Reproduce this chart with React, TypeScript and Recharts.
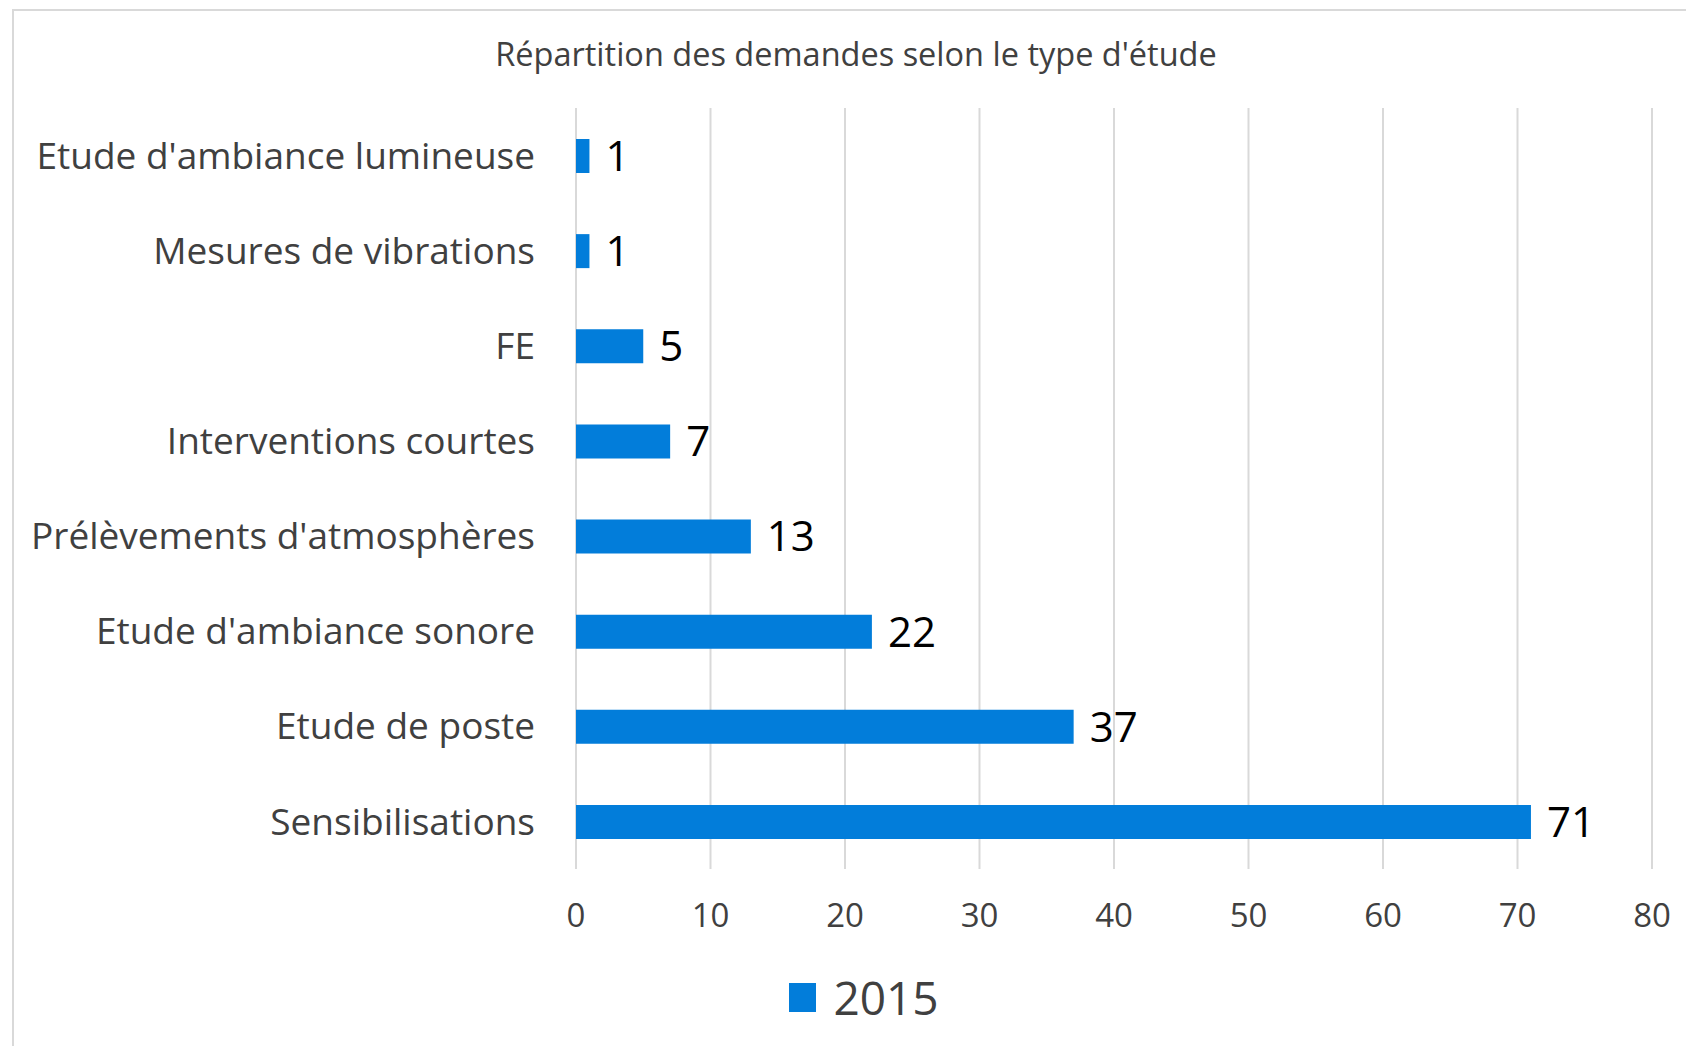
import React from "react";
import { BarChart, Bar, XAxis, YAxis, CartesianGrid, LabelList, Legend } from "recharts";

const categories = [
  "Etude d'ambiance lumineuse",
  "Mesures de vibrations",
  "FE",
  "Interventions courtes",
  "Prélèvements d'atmosphères",
  "Etude d'ambiance sonore",
  "Etude de poste",
  "Sensibilisations",
];
const values2015 = [1, 1, 5, 7, 13, 22, 37, 71];
const xTicks = [0, 10, 20, 30, 40, 50, 60, 70, 80];
const seriesName = "2015";
const title = "Répartition des demandes selon le type d'étude";

const data = categories.map((c, i) => ({ name: c, v: values2015[i] }));

const FONT = "'Open Sans', 'Noto Sans', sans-serif";
const BLUE = "#027DDA";

const renderLegend = (props: any) => {
  const { payload } = props;
  return (
    <div style={{ display: "flex", justifyContent: "center", alignItems: "center", fontFamily: FONT, paddingLeft: 42 }}>
      {(payload || []).map((p: any, i: number) => (
        <div key={i} style={{ display: "flex", alignItems: "center" }}>
          <div style={{ width: 27, height: 29, background: BLUE, marginRight: 17 }} />
          <span style={{ fontSize: 46, color: "#404040", lineHeight: "50px" }}>{p.value}</span>
        </div>
      ))}
    </div>
  );
};

export default function App() {
  return (
    <div style={{ position: "absolute", left: 0, top: 0, width: 1686, height: 1046, overflow: "hidden", background: "#fff" }}>
      <div style={{ position: "absolute", left: 12, top: 9, width: 1760, height: 1120, border: "2px solid #d9d9d9", boxSizing: "border-box" }} />
      <div style={{ position: "absolute", left: 0, top: 33, width: 1712, textAlign: "center", fontFamily: FONT, fontSize: 32.5, color: "#404040", lineHeight: "42px" }}>
        {title}
      </div>
      <div style={{ position: "absolute", left: 0, top: 0 }}>
        <BarChart
          width={1686}
          height={1046}
          data={data}
          layout="vertical"
          margin={{ top: 108, right: 34, bottom: 117, left: 0 }}
          barSize={34}
        >
          <CartesianGrid horizontal={false} vertical={true} stroke="#d9d9d9" strokeWidth={2} />
          <XAxis
            type="number"
            domain={[0, 80]}
            ticks={xTicks}
            axisLine={false}
            tickLine={false}
            tickSize={0}
            tickMargin={35}
            height={60}
            interval={0}
            tick={{ fontSize: 33, fill: "#404040", fontFamily: FONT }}
          />
          <YAxis
            type="category"
            dataKey="name"
            width={576}
            axisLine={false}
            tickLine={false}
            tickSize={0}
            tickMargin={41}
            interval={0}
            tick={{ fontSize: 37, fill: "#404040", fontFamily: FONT }}
          />
          <Legend verticalAlign="middle" align="center" content={renderLegend} wrapperStyle={{ top: 972, left: 0, width: 1686 }} />
          <Bar dataKey="v" name={seriesName} fill={BLUE} isAnimationActive={false}>
            <LabelList dataKey="v" position="right" offset={16} fill="#000" fontSize={42} fontFamily={FONT} />
          </Bar>
        </BarChart>
      </div>
    </div>
  );
}
